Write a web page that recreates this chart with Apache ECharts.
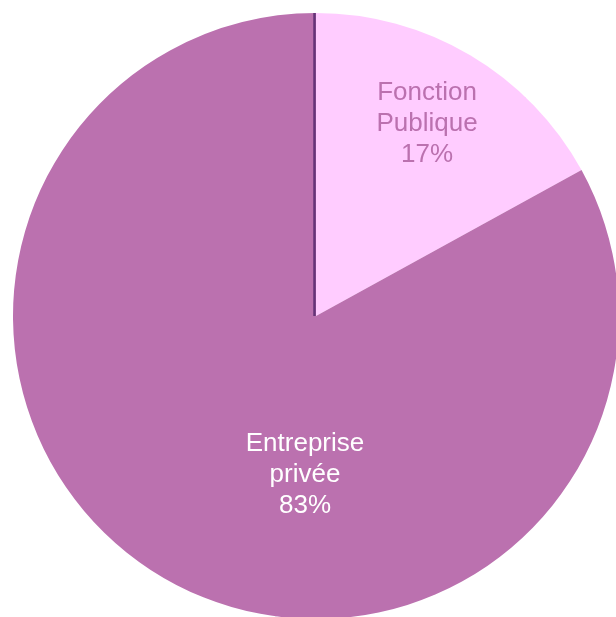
<!DOCTYPE html>
<html>
<head>
<meta charset="utf-8">
<script src="https://cdn.jsdelivr.net/npm/echarts@6/dist/echarts.min.js"></script>
<style>html,body{margin:0;padding:0;background:#fff;}#c{width:616px;height:617px;}</style>
</head>
<body>
<div id="c"></div>
<script>
// Data
const categories = ['Fonction\nPublique', 'Entreprise\nprivée'];
const values = [17, 83];

// Styles / layout
const colors = ['#FFCCFF', '#BB71AF'];
const labelColors = ['#BB71AF', '#FFFFFF'];
const CX = 316, CY = 316, R = 303;
const labelAnchors = [[427, 124], [305, 475]];

const chart = echarts.init(document.getElementById('c'), null, {renderer: 'canvas'});
chart.setOption({
  animation: false,
  series: [{
    type: 'pie',
    center: [CX, CY],
    radius: R,
    startAngle: 90,
    clockwise: true,
    avoidLabelOverlap: false,
    itemStyle: {borderWidth: 0},
    emphasis: {disabled: true},
    label: {
      show: true,
      position: 'inside',
      formatter: '{b}\n{d}%',
      fontFamily: 'Liberation Sans, Arial, sans-serif',
      fontSize: 26,
      lineHeight: 31,
      align: 'center'
    },
    labelLayout: function (p) {
      const a = labelAnchors[p.dataIndex];
      return {x: a[0], y: a[1], align: 'center', verticalAlign: 'middle'};
    },
    data: categories.map((c, i) => ({
      name: c,
      value: values[i],
      itemStyle: {color: colors[i]},
      label: {color: labelColors[i]}
    }))
  }],
  graphic: [{
    type: 'line',
    z: 100,
    shape: {x1: CX - 1.5, y1: CY - R, x2: CX - 1.5, y2: CY},
    style: {stroke: '#653478', lineWidth: 2.5}
  }]
});
</script>
</body>
</html>
